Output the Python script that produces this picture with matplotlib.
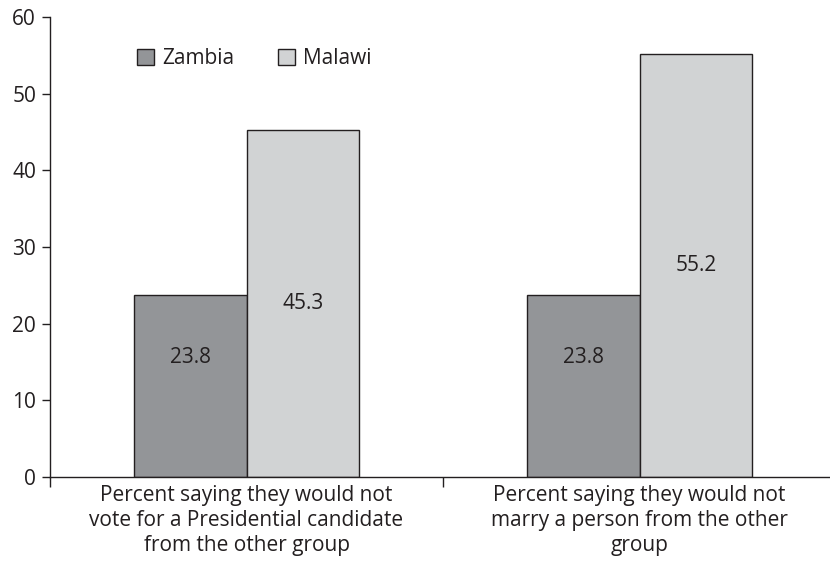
import matplotlib
matplotlib.use("Agg")
import matplotlib.pyplot as plt
import numpy as np

categories = ["Percent saying they would not\nvote for a Presidential candidate\nfrom the other group",
              "Percent saying they would not\nmarry a person from the other\ngroup"]
series_names = ["Zambia", "Malawi"]
zambia = [23.8, 23.8]
malawi = [45.3, 55.2]
colors = ["#939598", "#d1d3d4"]
yticks = [0, 10, 20, 30, 40, 50, 60]

plt.rcParams['font.family'] = ['Open Sans', 'DejaVu Sans']
FS = 15

fig = plt.figure(figsize=(8.3, 5.61), dpi=100)
ax = fig.add_axes([50/830, 84/561, 786/830, 460/561])

x = np.arange(len(categories))
w = 0.287
b1 = ax.bar(x - w/2, zambia, w, color=colors[0], edgecolor="#231f20", linewidth=1.0, label=series_names[0])
b2 = ax.bar(x + w/2, malawi, w, color=colors[1], edgecolor="#231f20", linewidth=1.0, label=series_names[1])

for xi, v in zip(x - w/2, zambia):
    ax.text(xi, v * 0.655, f"{v:.1f}", ha="center", va="center", fontsize=FS, color="#231f20")
for xi, v in zip(x + w/2, malawi):
    ax.text(xi, v / 2, f"{v:.1f}", ha="center", va="center", fontsize=FS, color="#231f20")

ax.set_xlim(-0.5, 1.5)
ax.set_ylim(0, 60)
ax.set_yticks(yticks)
ax.tick_params(axis='y', direction='out', length=6, width=1, labelsize=FS, colors="#231f20", pad=4)
ax.set_xticks([-0.5, 0.5, 1.5])
ax.set_xticklabels([])
ax.tick_params(axis='x', which='major', direction='out', length=7, width=1, colors="#231f20")
ax.set_xticks(x, minor=True)
ax.set_xticklabels(categories, minor=True, fontsize=FS, color="#231f20", linespacing=1.25)
ax.tick_params(axis='x', which='minor', length=0, pad=6)

for s in ["top", "right"]:
    ax.spines[s].set_visible(False)
for s in ["left", "bottom"]:
    ax.spines[s].set_color("#231f20")
    ax.spines[s].set_linewidth(1.0)

leg = ax.legend(loc="center left", bbox_to_anchor=(0.087, 0.91), ncol=2, frameon=False,
                fontsize=FS, handlelength=0.8, handleheight=0.8, handletextpad=0.4,
                columnspacing=2.1, labelcolor="#231f20")

fig.savefig("out.png", dpi=100)
